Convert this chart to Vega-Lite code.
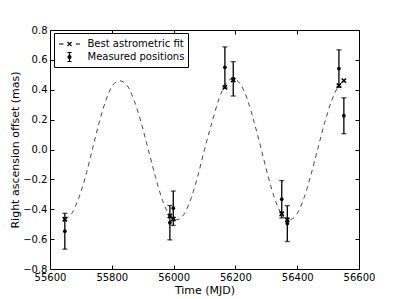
{
  "$schema": "https://vega.github.io/schema/vega-lite/v6.json",
  "width": 309,
  "height": 239,
  "autosize": "none",
  "padding": {"left": 50, "top": 30, "right": 40, "bottom": 30},
  "background": "white",
  "config": {
    "font": "DejaVu Sans",
    "view": {"stroke": "black", "strokeWidth": 1},
    "axis": {
      "domain": false, "grid": false, "tickColor": "black", "tickWidth": 1,
      "labelColor": "black", "labelFontSize": 10, "labelFont": "DejaVu Sans",
      "titleFontSize": 11, "titleFontWeight": "normal", "titleColor": "black", "titleFont": "DejaVu Sans",
      "labelFlush": false, "labelOverlap": false, "labelBound": false
    }
  },
  "datasets": {
    "curve": [
      {"t": 55647, "v": -0.465}, {"t": 55670, "v": -0.43}, {"t": 55692, "v": -0.33}, {"t": 55715, "v": -0.18},
      {"t": 55737, "v": 0.0}, {"t": 55759, "v": 0.18}, {"t": 55781, "v": 0.33}, {"t": 55803, "v": 0.43},
      {"t": 55826, "v": 0.46}, {"t": 55849, "v": 0.43}, {"t": 55872, "v": 0.33}, {"t": 55895, "v": 0.18},
      {"t": 55918, "v": 0.0}, {"t": 55941, "v": -0.18}, {"t": 55964, "v": -0.34}, {"t": 55987, "v": -0.44},
      {"t": 56010, "v": -0.47}, {"t": 56033, "v": -0.435}, {"t": 56056, "v": -0.33}, {"t": 56078, "v": -0.18},
      {"t": 56100, "v": 0.0}, {"t": 56124, "v": 0.18}, {"t": 56147, "v": 0.34}, {"t": 56169, "v": 0.44},
      {"t": 56192, "v": 0.475}, {"t": 56215, "v": 0.44}, {"t": 56238, "v": 0.34}, {"t": 56261, "v": 0.18},
      {"t": 56284, "v": 0.0}, {"t": 56306, "v": -0.18}, {"t": 56329, "v": -0.34}, {"t": 56352, "v": -0.44},
      {"t": 56375, "v": -0.47}, {"t": 56398, "v": -0.435}, {"t": 56421, "v": -0.33}, {"t": 56443, "v": -0.18},
      {"t": 56466, "v": 0.0}, {"t": 56489, "v": 0.18}, {"t": 56512, "v": 0.33}, {"t": 56535, "v": 0.43},
      {"t": 56551, "v": 0.46}
    ],
    "measured": [
      {"t": 55648, "v": -0.547, "err": 0.12},
      {"t": 55988, "v": -0.49, "err": 0.115},
      {"t": 55999, "v": -0.393, "err": 0.115},
      {"t": 56166, "v": 0.55, "err": 0.137},
      {"t": 56193, "v": 0.473, "err": 0.115},
      {"t": 56350, "v": -0.333, "err": 0.125},
      {"t": 56368, "v": -0.496, "err": 0.12},
      {"t": 56535, "v": 0.542, "err": 0.125},
      {"t": 56551, "v": 0.226, "err": 0.12}
    ],
    "fit": [
      {"t": 55648, "v": -0.467},
      {"t": 55988, "v": -0.445},
      {"t": 55999, "v": -0.465},
      {"t": 56166, "v": 0.416},
      {"t": 56193, "v": 0.465},
      {"t": 56350, "v": -0.43},
      {"t": 56368, "v": -0.47},
      {"t": 56535, "v": 0.428},
      {"t": 56551, "v": 0.461}
    ],
    "legend": [
      {"series": "Best astrometric fit"},
      {"series": "Measured positions"}
    ]
  },
  "resolve": {"axis": {"x": "independent", "y": "independent"}},
  "layer": [
    {
      "data": {"name": "curve"},
      "mark": {"type": "line", "color": "#333333", "strokeWidth": 0.9, "strokeDash": [4.5, 4], "interpolate": "monotone"},
      "encoding": {
        "x": {"field": "t", "type": "quantitative", "scale": {"domain": [55600, 56600], "nice": false, "zero": false},
              "axis": {"orient": "bottom", "values": [55600, 55800, 56000, 56200, 56400, 56600], "format": "d", "title": "Time (MJD)", "ticks": false, "labelPadding": 3, "titlePadding": 2}},
        "y": {"field": "v", "type": "quantitative", "scale": {"domain": [-0.8, 0.8], "nice": false, "zero": false},
              "axis": {"orient": "left", "values": [-0.8, -0.6, -0.4, -0.2, 0, 0.2, 0.4, 0.6, 0.8], "format": ".1f", "title": "Right ascension offset (mas)", "ticks": false, "labelPadding": 3, "titlePadding": 2}}
      }
    },
    {
      "data": {"name": "measured"},
      "mark": {"type": "errorbar", "color": "black", "thickness": 1.3, "ticks": {"size": 5, "thickness": 1.3, "color": "black"}},
      "encoding": {
        "x": {"field": "t", "type": "quantitative",
              "axis": {"orient": "bottom", "offset": -4, "tickSize": 4, "values": [55600, 55800, 56000, 56200, 56400, 56600], "labels": false, "title": null}},
        "y": {"field": "v", "type": "quantitative",
              "axis": {"orient": "left", "offset": -4, "tickSize": 4, "values": [-0.8, -0.6, -0.4, -0.2, 0, 0.2, 0.4, 0.6, 0.8], "labels": false, "title": null}},
        "yError": {"field": "err"}
      }
    },
    {
      "data": {"name": "measured"},
      "mark": {"type": "point", "filled": true, "color": "black", "size": 14, "opacity": 1},
      "encoding": {
        "x": {"field": "t", "type": "quantitative",
              "axis": {"orient": "top", "offset": -4, "tickSize": 4, "values": [55600, 55800, 56000, 56200, 56400, 56600], "labels": false, "title": null}},
        "y": {"field": "v", "type": "quantitative",
              "axis": {"orient": "right", "offset": -4, "tickSize": 4, "values": [-0.8, -0.6, -0.4, -0.2, 0, 0.2, 0.4, 0.6, 0.8], "labels": false, "title": null}}
      }
    },
    {
      "data": {"name": "fit"},
      "mark": {"type": "point", "filled": false, "color": "black", "shape": "M-1,-1L1,1M-1,1L1,-1", "size": 18, "strokeWidth": 1.6, "opacity": 1},
      "encoding": {
        "x": {"field": "t", "type": "quantitative", "axis": null},
        "y": {"field": "v", "type": "quantitative", "axis": null}
      }
    },
    {
      "data": {"name": "legend"},
      "mark": {"type": "point", "filled": false, "color": "black", "opacity": 0},
      "encoding": {
        "shape": {
          "field": "series", "type": "nominal",
          "scale": {
            "domain": ["Best astrometric fit", "Measured positions"],
            "range": [
              "M-1.5,0H-0.85M0.9,0H1.5M-0.29,-0.29L0.29,0.29M-0.29,0.29L0.29,-0.29",
              "M0,-0.64V0.64M-0.29,-0.64H0.29M-0.29,0.64H0.29M-0.21,0A0.21,0.21,0,1,1,0.21,0A0.21,0.21,0,1,1,-0.21,0Z"
            ]
          },
          "legend": {
            "title": null, "orient": "none", "legendX": 4, "legendY": 3,
            "padding": 3, "rowPadding": 0, "symbolSize": 196, "symbolOffset": 4.5, "labelOffset": 10,
            "symbolOpacity": 1, "symbolFillColor": "black", "symbolStrokeColor": "black", "symbolStrokeWidth": 1.2,
            "labelFontSize": 10, "labelColor": "black", "labelFont": "DejaVu Sans", "labelLimit": 300,
            "strokeColor": "black", "fillColor": "white", "cornerRadius": 0,
            "encode": {
              "symbols": {"update": {"opacity": {"value": 1}, "fill": {"value": "black"}, "stroke": {"value": "black"}, "strokeWidth": {"value": 1.2}, "fillOpacity": {"value": 1}, "strokeOpacity": {"value": 1}}},
              "legend": {"update": {"stroke": {"value": "black"}, "strokeWidth": {"value": 1}, "fill": {"value": "white"}}}
            }
          }
        }
      }
    }
  ]
}
